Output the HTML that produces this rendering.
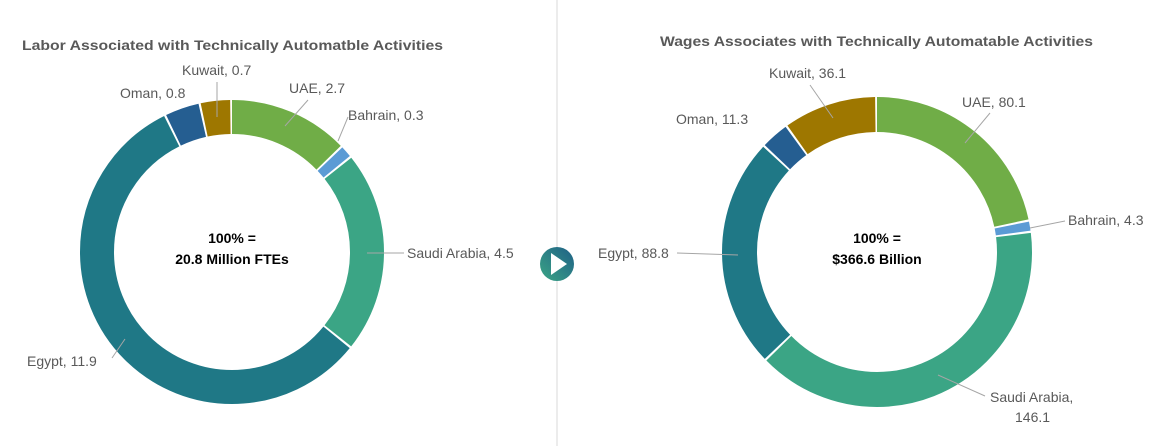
<!DOCTYPE html>
<html><head><meta charset="utf-8"><style>
html,body{margin:0;padding:0;background:#fff;}
svg{display:block;font-family:"Liberation Sans",sans-serif;}
.l{font-size:14px;fill:#595959;}
.t{font-size:14px;font-weight:bold;fill:#595959;}
.c{font-size:14px;font-weight:bold;fill:#000;}
.ln{stroke:#a6a6a6;stroke-width:1;fill:none;}
</style></head><body>
<svg width="1161" height="446" viewBox="0 0 1161 446">
<defs><linearGradient id="g" x1="0" y1="1" x2="1" y2="0"><stop offset="0" stop-color="#3ba585"/><stop offset="1" stop-color="#1f6086"/></linearGradient></defs>
<line x1="557" y1="0" x2="557" y2="446" stroke="#d9d9d9" stroke-width="1"/>
<text class="t" x="22" y="50" textLength="421" lengthAdjust="spacingAndGlyphs">Labor Associated with Technically Automatble Activities</text>
<text class="t" x="660" y="46" textLength="433" lengthAdjust="spacingAndGlyphs">Wages Associates with Technically Automatable Activities</text>
<g transform="translate(232,252) rotate(-90)" fill="none" stroke-width="34">
<circle r="135" stroke="#70ad47" stroke-dasharray="107.6 1000" stroke-dashoffset="0"/>
<circle r="135" stroke="#5b9bd5" stroke-dasharray="10.2 1000" stroke-dashoffset="-109.58"/>
<circle r="135" stroke="#3ba585" stroke-dasharray="180.6 1000" stroke-dashoffset="-121.76"/>
<circle r="135" stroke="#1f7886" stroke-dasharray="481 1000" stroke-dashoffset="-304.39"/>
<circle r="135" stroke="#255e91" stroke-dasharray="30.5 1000" stroke-dashoffset="-787.36"/>
<circle r="135" stroke="#9e7700" stroke-dasharray="26.4 1000" stroke-dashoffset="-819.83"/>
</g>
<g transform="translate(877,252) rotate(-90)" fill="none" stroke-width="35">
<circle r="137.5" stroke="#70ad47" stroke-dasharray="186.7 1000" stroke-dashoffset="0"/>
<circle r="137.5" stroke="#5b9bd5" stroke-dasharray="8.1 1000" stroke-dashoffset="-188.71"/>
<circle r="137.5" stroke="#3ba585" stroke-dasharray="342.2 1000" stroke-dashoffset="-198.84"/>
<circle r="137.5" stroke="#1f7886" stroke-dasharray="207.2 1000" stroke-dashoffset="-543.05"/>
<circle r="137.5" stroke="#255e91" stroke-dasharray="24.6 1000" stroke-dashoffset="-752.26"/>
<circle r="137.5" stroke="#9e7700" stroke-dasharray="83 1000" stroke-dashoffset="-778.88"/>
</g>
<text class="c" x="232" y="243" text-anchor="middle">100% =</text>
<text class="c" x="232" y="264" text-anchor="middle">20.8 Million FTEs</text>
<text class="c" x="877" y="243" text-anchor="middle">100% =</text>
<text class="c" x="877" y="264" text-anchor="middle">$366.6 Billion</text>
<line class="ln" x1="217" y1="82" x2="217" y2="117"/>
<line class="ln" x1="308" y1="100" x2="285" y2="126"/>
<line class="ln" x1="348" y1="117" x2="338" y2="141"/>
<line class="ln" x1="404" y1="253" x2="367" y2="253"/>
<line class="ln" x1="112" y1="358" x2="125" y2="339"/>
<text class="l" x="182" y="75">Kuwait, 0.7</text>
<text class="l" x="120" y="98">Oman, 0.8</text>
<text class="l" x="289" y="93">UAE, 2.7</text>
<text class="l" x="348" y="120">Bahrain, 0.3</text>
<text class="l" x="407" y="258">Saudi Arabia, 4.5</text>
<text class="l" x="27" y="366">Egypt, 11.9</text>
<line class="ln" x1="810" y1="85" x2="833" y2="118"/>
<line class="ln" x1="990" y1="113" x2="965" y2="143"/>
<line class="ln" x1="1065" y1="221" x2="1030" y2="228"/>
<line class="ln" x1="677" y1="253" x2="738" y2="255"/>
<line class="ln" x1="985" y1="396" x2="938" y2="375"/>
<text class="l" x="769" y="78">Kuwait, 36.1</text>
<text class="l" x="676" y="124">Oman, 11.3</text>
<text class="l" x="962" y="107">UAE, 80.1</text>
<text class="l" x="1068" y="225">Bahrain, 4.3</text>
<text class="l" x="598" y="258">Egypt, 88.8</text>
<text class="l" x="990" y="402">Saudi Arabia,</text>
<text class="l" x="1015" y="422">146.1</text>
<circle cx="557" cy="264" r="17" fill="url(#g)"/>
<polygon points="551,253 551,275 567,264" fill="#fff"/>
</svg>
</body></html>
